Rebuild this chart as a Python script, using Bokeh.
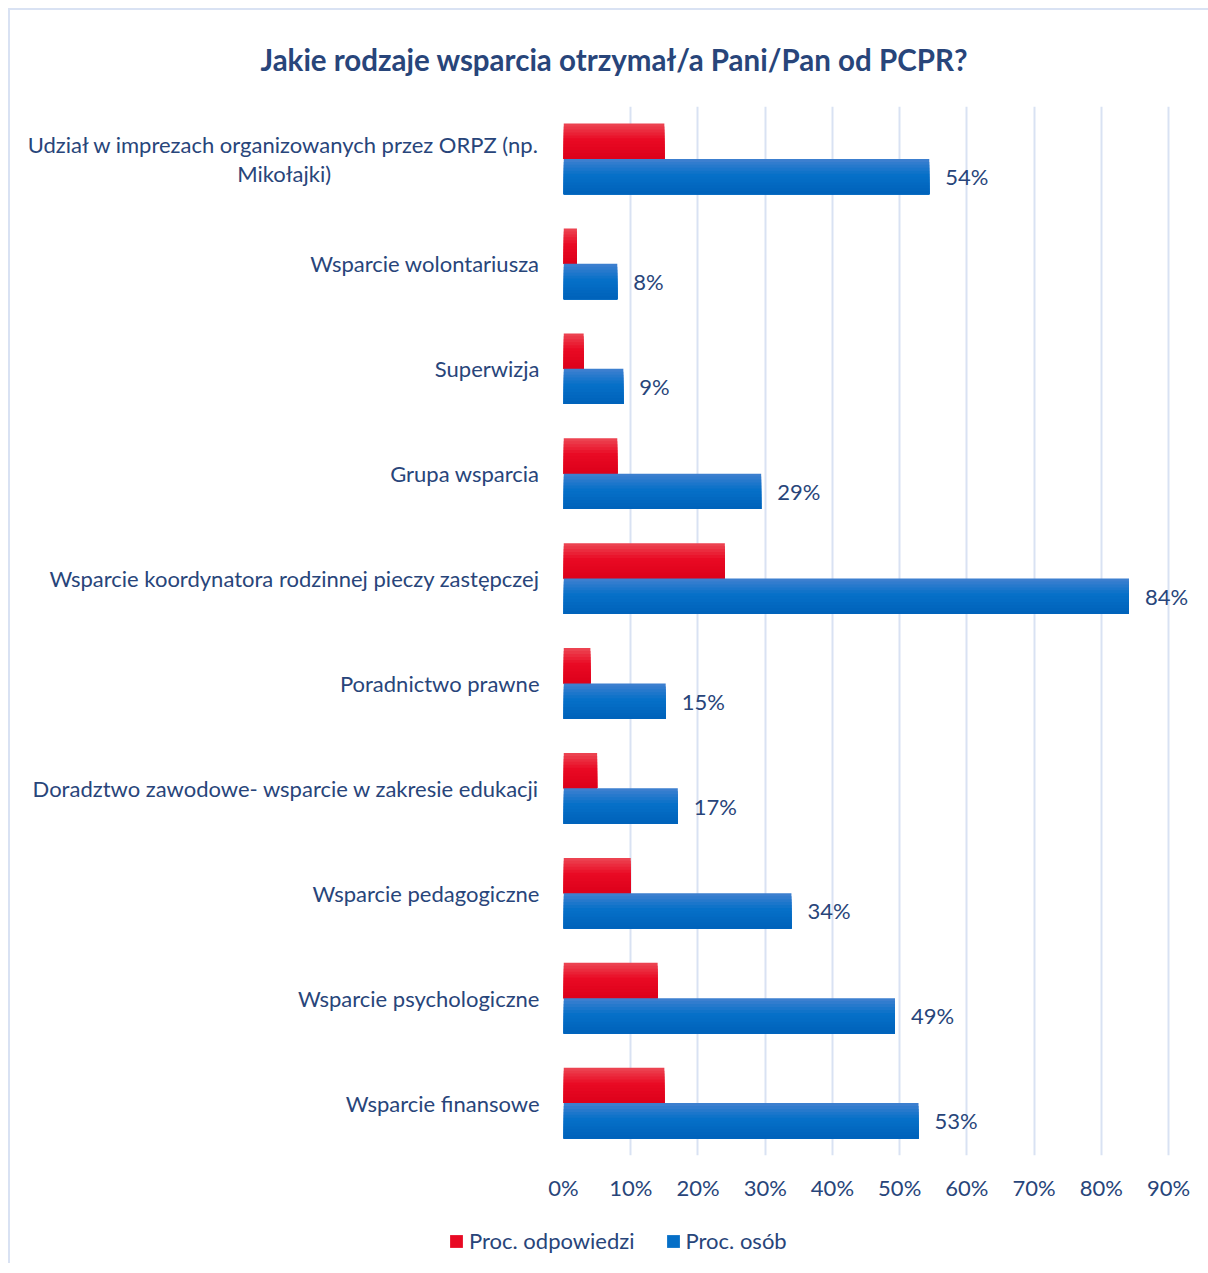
from bokeh.plotting import figure
from bokeh.layouts import column, row
from bokeh.models import (FactorRange, Range1d, ColumnDataSource, Legend, LegendItem,
                          FixedTicker, CustomJSTickFormatter)
from bokeh.transform import dodge
from bokeh.embed import file_html
from bokeh.resources import INLINE
from bokeh.core.properties import value

# ---------------- data ----------------
categories = [
    "Udział w imprezach organizowanych przez ORPZ (np. Mikołajki)",
    "Wsparcie wolontariusza",
    "Superwizja",
    "Grupa wsparcia",
    "Wsparcie koordynatora rodzinnej pieczy zastępczej",
    "Poradnictwo prawne",
    "Doradztwo zawodowe- wsparcie w zakresie edukacji",
    "Wsparcie pedagogiczne",
    "Wsparcie psychologiczne",
    "Wsparcie finansowe",
]
proc_odpowiedzi = [0.15, 0.02, 0.03, 0.08, 0.24, 0.04, 0.05, 0.10, 0.14, 0.15]
proc_osob = [0.544, 0.08, 0.089, 0.294, 0.841, 0.152, 0.17, 0.339, 0.493, 0.528]
series_names = ["Proc. odpowiedzi", "Proc. osób"]
x_ticks = [0.0, 0.1, 0.2, 0.3, 0.4, 0.5, 0.6, 0.7, 0.8, 0.9]
title_text = "Jakie rodzaje wsparcia otrzymał/a Pani/Pan od PCPR?"

osob_labels = [f"{round(v * 100)}%" for v in proc_osob]

# ---------------- style ----------------
FONT = "Lato"
TXT = "#28457A"
GRID = "#D9E2F3"
RED_STOPS = [(0.0, (236, 72, 84)), (0.45, (233, 10, 36)), (1.0, (220, 0, 26))]
BLUE_STOPS = [(0.0, (66, 129, 208)), (0.45, (6, 112, 200)), (1.0, (0, 98, 186))]
BAR_H = 0.337
N_SLICES = 12
NBSP = "\u00a0"


def display_label(c):
    # wrap the long label onto two lines, second line visually centred
    if c.startswith("Udział"):
        head, tail = c.split(" Mikołajki)")
        return head + "\nMikołajki)" + NBSP * 37
    return c


y_factors = [display_label(c) for c in categories]


def interp(stops, t):
    for (t0, c0), (t1, c1) in zip(stops, stops[1:]):
        if t0 <= t <= t1:
            f = (t - t0) / (t1 - t0) if t1 > t0 else 0
            return "#%02x%02x%02x" % tuple(int(round(a + (b - a) * f)) for a, b in zip(c0, c1))
    return "#%02x%02x%02x" % stops[-1][1]


W, H = 1198, 1210
p = figure(
    width=W, height=H,
    y_range=FactorRange(factors=list(reversed(y_factors)), range_padding=0),
    x_range=Range1d(0, 0.934),
    output_backend="svg", toolbar_location=None,
    min_border_left=553, min_border_right=17, min_border_top=93, min_border_bottom=65,
)

src = ColumnDataSource(dict(cat=y_factors, odp=proc_odpowiedzi, osob=proc_osob, lbl=osob_labels))

# gradient bars: layered bars, each one shorter from the top, sharing the bar bottom
sh = BAR_H / N_SLICES
mid_colors = {}
for name, field, top, stops in [
    (series_names[0], "odp", BAR_H, RED_STOPS),
    (series_names[1], "osob", 0.0, BLUE_STOPS),
]:
    bottom = top - BAR_H
    for j in range(N_SLICES):
        t_j = top - j * sh
        col = interp(stops, (j + 0.5) / N_SLICES)
        p.hbar(y=dodge("cat", (t_j + bottom) / 2, range=p.y_range), left=0, right=field,
               height=t_j - bottom, source=src, fill_color=col, line_color=None)
    mid_colors[name] = interp(stops, 0.5)

p.text(x="osob", y=dodge("cat", -BAR_H / 2, range=p.y_range), text="lbl", source=src,
       x_offset=16, text_baseline="middle", text_align="left",
       text_font=value(FONT), text_font_size="22px", text_color=TXT)

# axes
p.xaxis.ticker = FixedTicker(ticks=x_ticks)
p.xaxis.formatter = CustomJSTickFormatter(code="return Math.round(tick*100) + '%';")
for ax in (p.xaxis[0], p.yaxis[0]):
    ax.axis_line_color = None
    ax.major_tick_line_color = None
    ax.minor_tick_line_color = None
    ax.major_label_text_font = FONT
    ax.major_label_text_font_size = "22px"
    ax.major_label_text_color = TXT
p.xaxis.major_label_standoff = 12
p.yaxis.major_label_standoff = 18
p.yaxis.major_label_text_line_height = 1.1

p.xgrid.grid_line_color = GRID
p.xgrid.grid_line_width = 2
p.xgrid.ticker = FixedTicker(ticks=x_ticks)
p.ygrid.grid_line_color = None
p.outline_line_color = None

# title
p.title.text = title_text
p.title.align = "left"
p.title.offset = -303
p.title.text_font = FONT
p.title.text_font_size = "29.5px"
p.title.text_font_style = "bold"
p.title.text_color = TXT
p.title.standoff = 59

# legend in its own strip below the chart
legend_src = ColumnDataSource(dict(odp=proc_odpowiedzi, osob=proc_osob))
p2 = figure(width=W, height=43, x_range=Range1d(0, 1), y_range=Range1d(0, 1),
            x_axis_location=None, y_axis_location=None, title=None,
            output_backend="svg", toolbar_location=None,
            min_border_left=0, min_border_right=0, min_border_top=0, min_border_bottom=0)
p2.grid.visible = False
p2.outline_line_color = None
items = []
for n, field in zip(series_names, ["odp", "osob"]):
    r = p2.hbar(y=0.5, left=0, right=field, height=1, source=legend_src,
                fill_color=mid_colors[n], line_color=None, visible=False)
    items.append(LegendItem(label=n, renderers=[r]))
legend = Legend(
    items=items, orientation="horizontal", location=(438, 9),
    glyph_width=16, glyph_height=16, label_standoff=5, spacing=30,
    label_text_font=FONT, label_text_font_size="22px", label_text_color=TXT,
    border_line_color=None, background_fill_alpha=0, padding=0, margin=0,
    inactive_fill_alpha=0,
)
p2.add_layout(legend, "center")

layout = column(p, row(p2, spacing=0), spacing=0)
layout.styles = {"margin-left": "8px", "margin-top": "8px",
                 "border-left": f"2px solid {GRID}", "border-top": f"2px solid {GRID}"}

open("out.html", "w").write(file_html(layout, INLINE))
